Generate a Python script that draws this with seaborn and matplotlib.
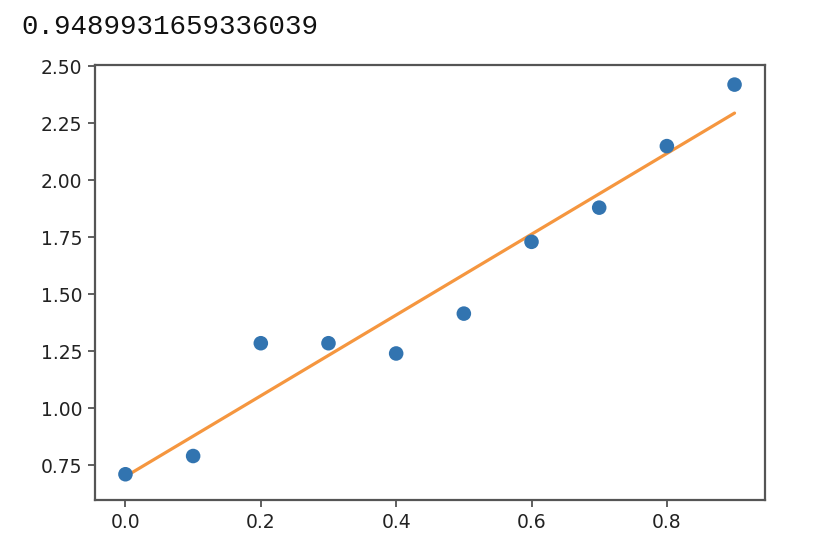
import matplotlib
matplotlib.use("Agg")
import matplotlib.pyplot as plt
import seaborn as sns
import pandas as pd

# data
x_vals = [0.0, 0.1, 0.2, 0.3, 0.4, 0.5, 0.6, 0.7, 0.8, 0.9]
y_vals = [0.71, 0.79, 1.285, 1.285, 1.24, 1.415, 1.73, 1.88, 2.15, 2.42]
fit_x = [0.0, 0.9]
fit_y = [0.70, 2.295]
score_text = "0.9489931659336039"
y_ticks = [0.75, 1.00, 1.25, 1.50, 1.75, 2.00, 2.25, 2.50]
x_ticks = [0.0, 0.2, 0.4, 0.6, 0.8]

sns.set_style("white")
plt.rcParams["font.family"] = ["DejaVu Sans"]

df = pd.DataFrame({"x": x_vals, "y": y_vals})
fit_df = pd.DataFrame({"x": fit_x, "y": fit_y})

fig = plt.figure(figsize=(8.28, 5.58), dpi=100)
ax = fig.add_axes([95 / 828, 1 - 500 / 558, 670 / 828, 435 / 558])

sns.scatterplot(data=df, x="x", y="y", ax=ax, color="#3274b0", s=110,
                edgecolor="none", zorder=3)
sns.lineplot(data=fit_df, x="x", y="y", ax=ax, color="#f5963f", linewidth=2.3,
             zorder=2)

ax.set_xlim(-0.045, 0.945)
ax.set_ylim(0.597, 2.506)
ax.set_xticks(x_ticks)
ax.set_xticklabels([f"{v:.1f}" for v in x_ticks])
ax.set_yticks(y_ticks)
ax.set_yticklabels([f"{v:.2f}" for v in y_ticks])
ax.set_xlabel("")
ax.set_ylabel("")
ax.tick_params(axis="both", which="both", direction="out", length=5, width=1.2,
               color="#444444", labelsize=13.5, labelcolor="#222222", pad=4,
               bottom=True, left=True)
for sp in ax.spines.values():
    sp.set_visible(True)
    sp.set_color("#555555")
    sp.set_linewidth(1.6)

fig.text(21 / 828, 1 - 27 / 558, score_text, family="Liberation Mono",
         fontsize=19.8, color="#111111", va="center", ha="left")

fig.savefig("out.png", dpi=100, facecolor="white")
